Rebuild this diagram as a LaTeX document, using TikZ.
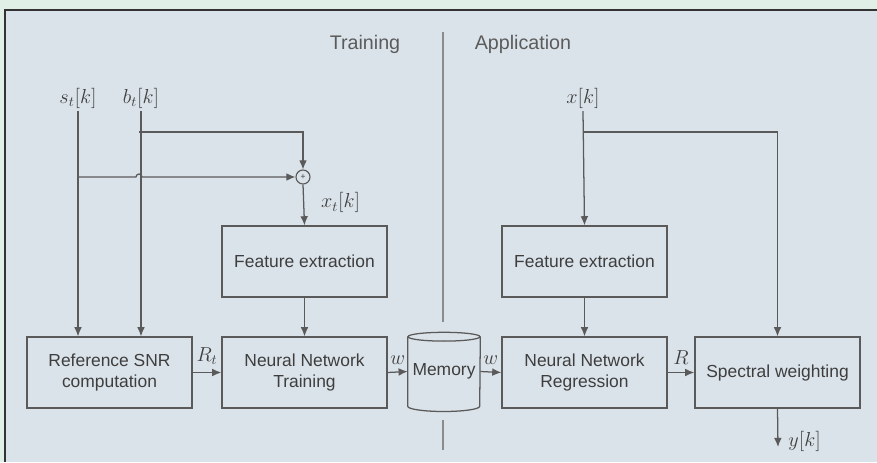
\documentclass[tikz,border=0pt]{standalone}
\usepackage{fontspec}
\setmainfont{Liberation Sans}
\usetikzlibrary{shapes,arrows.meta}

\definecolor{outergreen}{HTML}{E1F0E6}
\definecolor{panelgray}{HTML}{DBE3EA}
\definecolor{linegray}{HTML}{5A5A5A}
\definecolor{textgray}{HTML}{3E3E3E}

\tikzstyle{block} = [draw=linegray, line width=0.9pt, fill=panelgray, rectangle,
    minimum height=1.775cm, minimum width=4.125cm, align=center,
    text=textgray, font=\fontsize{12.4}{15}\selectfont]
\tikzstyle{sumnode} = [draw=linegray, line width=0.8pt, circle, minimum size=0.35cm,
    inner sep=0pt, font=\fontsize{6}{6}\selectfont, text=textgray]
\tikzstyle{sig} = [text=textgray, inner sep=2pt, font=\fontsize{14}{16}\selectfont]
\tikzstyle{wire} = [draw=linegray, line width=0.9pt]
\tikzstyle{arrow} = [wire, -{Latex[length=6.5pt,width=5.5pt]}]
\tikzstyle{header} = [text=textgray!85, font=\fontsize{14}{16}\selectfont]

\begin{document}
\begin{tikzpicture}[x=0.025cm, y=-0.025cm]
 % background and panel
 \fill[outergreen] (0,0) rectangle (877,462);
 \useasboundingbox (0,0) rectangle (877,462);
 \fill[panelgray] (5,10) rectangle (877,462);
 \draw[line width=1.2pt, black!80] (5,462) -- (5,10) -- (877,10);

 % divider between the two phases
 \coordinate (divTop) at (443,32);
 \coordinate (divMid) at (443,322);
 \coordinate (divLow) at (443,420);
 \coordinate (divBot) at (443,450);
 \draw[line width=1.1pt, linegray!70] (divTop) -- (divMid);
 \draw[line width=1.1pt, linegray!70] (divLow) -- (divBot);
 \node[header, name=train] at (365,44) {Training};
 \node[header, name=appl] at (523,44) {Application};

 % training side
 \node[sig, name=slab] at (78,98) {$s_t[k]$};
 \node[sig, name=blab] at (141,98) {$b_t[k]$};
 \node[sumnode, name=adder] at (303,177) {+};
 \node[block, name=fetrain] at (304.5,261.5) {Feature extraction};
 \node[block, name=refsnr] at (109.5,372.5) {Reference SNR\\computation};
 \node[block, name=nntrain] at (304.5,372.5) {Neural Network\\Training};

 % memory
 \node[minimum width=1.8cm, minimum height=1.725cm, inner sep=0pt,
   text=textgray, font=\fontsize{12.4}{15}\selectfont, name=memory] at (444,371.5) {Memory};
 \draw[wire] (memory.north) ellipse [x radius=0.9cm, y radius=0.11cm];
 \draw[wire] (memory.north west) -- (memory.south west)
   arc[start angle=180, end angle=360, x radius=0.9cm, y radius=0.13cm]
   -- (memory.north east);

 % application side
 \node[sig, name=xlab] at (583,98) {$x[k]$};
 \node[block, name=feapp] at (584.5,261.5) {Feature extraction};
 \node[block, name=nnreg] at (584.5,372.5) {Neural Network\\Regression};
 \node[block, name=spec] at (777.5,372.5) {Spectral weighting};

 \coordinate (bsplit) at (139,132);
 \coordinate (ssplit) at (77,177);
 \coordinate (hopL) at (136,177);
 \coordinate (xsplit) at (583,132);
 \coordinate (yEnd) at (778,447);

 % connectors, training
 \draw[arrow] (slab.south) -- (slab.south |- refsnr.north);
 \draw[arrow] (blab.south) -- (blab.south |- refsnr.north);
 \draw[arrow] (bsplit) -| (adder.north);
 \draw[arrow] (ssplit) -- (hopL) arc[start angle=180, end angle=0, radius=0.075cm] -- (adder.west);
 \draw[arrow] (adder.south) -- (fetrain.north) node[sig, pos=0.45, right=10pt] {$x_t[k]$};
 \draw[arrow] (fetrain.south) -- (nntrain.north);
 \draw[arrow] (refsnr.east) -- (nntrain.west) node[sig, midway, above=3pt] {$R_t$};
 \draw[arrow] (nntrain.east) -- (memory.west) node[sig, midway, above=3pt] {$w$};

 % connectors, application
 \draw[arrow] (memory.east) -- (nnreg.west) node[sig, midway, above=3pt] {$w$};
 \draw[arrow] (xlab.south) -- (feapp.north);
 \draw[arrow] (xsplit) -| (spec.north);
 \draw[arrow] (feapp.south) -- (nnreg.north);
 \draw[arrow] (nnreg.east) -- (spec.west) node[sig, midway, above=3pt] {$R$};
 \draw[arrow] (spec.south) -- (yEnd) node[sig, right=5pt, pos=0.85] {$y[k]$};
\end{tikzpicture}
\end{document}
